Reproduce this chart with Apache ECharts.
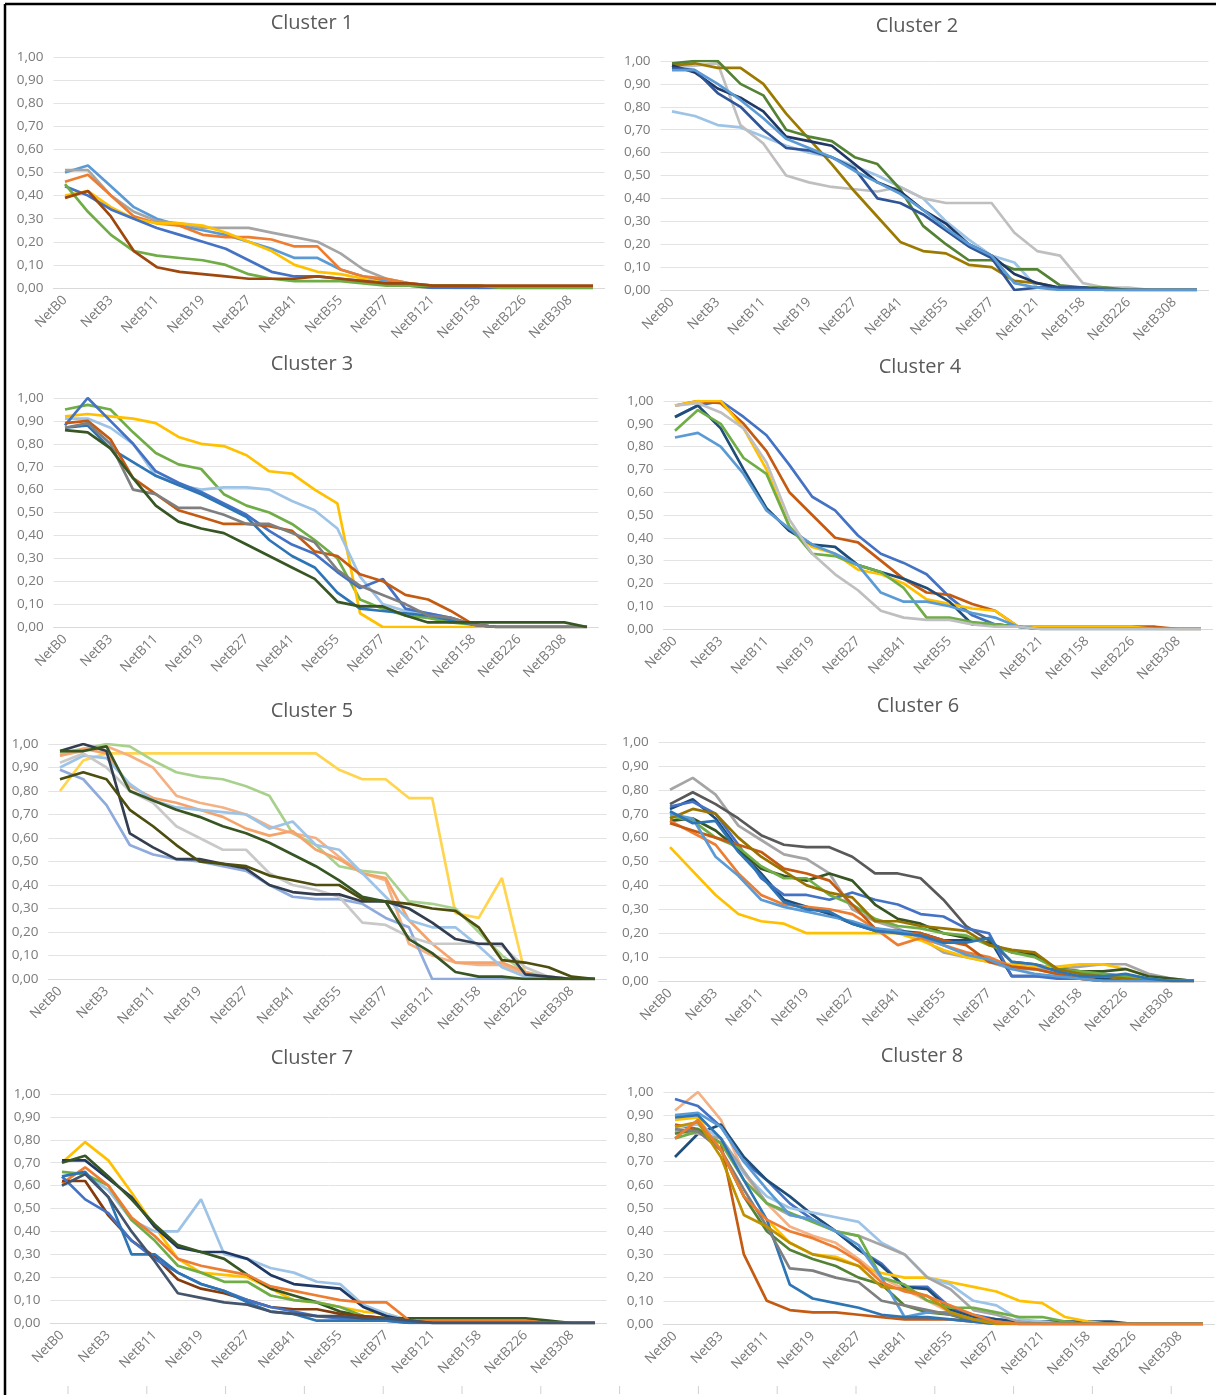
<!DOCTYPE html>
<html>
<head>
<meta charset="utf-8">
<script src="https://cdn.jsdelivr.net/npm/echarts@6/dist/echarts.min.js"></script>
<style>
html,body{margin:0;padding:0;background:#fff;}
#chart{width:1216px;height:1395px;}
</style>
</head>
<body>
<div id="chart"></div>
<script>
// ---------- categories / tick labels ----------
const categories = ['NetB0','NetB1','NetB3','NetB7','NetB11','NetB15','NetB19','NetB23','NetB27','NetB34','NetB41','NetB48','NetB55','NetB66','NetB77','NetB99','NetB121','NetB139','NetB158','NetB192','NetB226','NetB267','NetB308','NetB350'];
const yTicks = [0,0.1,0.2,0.3,0.4,0.5,0.6,0.7,0.8,0.9,1.0];
const titles = ['Cluster 1','Cluster 2','Cluster 3','Cluster 4','Cluster 5','Cluster 6','Cluster 7','Cluster 8'];

// ---------- Cluster 1 ----------
const c1s1 = [0.50,0.53,0.44,0.35,0.30,0.27,0.25,0.23,0.20,0.17,0.13,0.13,0.08,0.05,0.03,0.01,0.01,0.01,0,0,0,0,0,0];
const c1s2 = [0.51,0.51,0.40,0.33,0.29,0.28,0.26,0.26,0.26,0.24,0.22,0.20,0.15,0.08,0.04,0.02,0.01,0.01,0.01,0,0,0,0,0];
const c1s3 = [0.46,0.49,0.40,0.31,0.28,0.27,0.23,0.22,0.22,0.21,0.18,0.18,0.08,0.05,0.04,0.02,0.01,0,0,0,0,0,0,0];
const c1s4 = [0.40,0.42,0.35,0.30,0.28,0.28,0.27,0.24,0.20,0.16,0.10,0.07,0.06,0.04,0.02,0.01,0,0,0,0,0,0,0,0];
const c1s5 = [0.44,0.40,0.34,0.30,0.26,0.23,0.20,0.17,0.12,0.07,0.05,0.05,0.04,0.03,0.02,0.01,0,0,0,0,0,0,0,0];
const c1s6 = [0.45,0.33,0.23,0.16,0.14,0.13,0.12,0.10,0.06,0.04,0.03,0.03,0.03,0.02,0.01,0.01,0.01,0.01,0.01,0,0,0,0,0];
const c1s7 = [0.39,0.42,0.31,0.16,0.09,0.07,0.06,0.05,0.04,0.04,0.04,0.05,0.04,0.03,0.02,0.02,0.01,0.01,0.01,0.01,0.01,0.01,0.01,0.01];

// ---------- Cluster 2 ----------
const c2s1 = [0.78,0.76,0.72,0.71,0.67,0.63,0.60,0.58,0.54,0.50,0.45,0.40,0.30,0.22,0.15,0.12,0.01,0.01,0.01,0,0,0,0,0];
const c2s2 = [0.97,0.98,0.99,0.72,0.64,0.50,0.47,0.45,0.44,0.43,0.45,0.40,0.38,0.38,0.38,0.25,0.17,0.15,0.03,0.01,0.01,0,0,0];
const c2s3 = [0.98,0.99,0.97,0.97,0.90,0.77,0.66,0.55,0.43,0.32,0.21,0.17,0.16,0.11,0.10,0.04,0.03,0.01,0.01,0,0,0,0,0];
const c2s4 = [0.99,1.00,1.00,0.90,0.85,0.70,0.67,0.65,0.58,0.55,0.44,0.28,0.20,0.13,0.13,0.09,0.09,0.02,0.01,0.01,0,0,0,0];
const c2s5 = [0.98,0.95,0.88,0.84,0.78,0.67,0.65,0.63,0.55,0.47,0.43,0.35,0.29,0.20,0.15,0.07,0.03,0.01,0.01,0,0,0,0,0];
const c2s6 = [0.97,0.96,0.86,0.80,0.70,0.62,0.61,0.58,0.53,0.40,0.38,0.33,0.26,0.19,0.14,0.00,0.01,0.01,0.01,0,0,0,0,0];
const c2s7 = [0.96,0.96,0.90,0.83,0.75,0.66,0.62,0.58,0.52,0.47,0.42,0.35,0.27,0.20,0.15,0.03,0.01,0,0,0,0,0,0,0];

// ---------- Cluster 3 ----------
const c3s1 = [0.95,0.97,0.95,0.85,0.76,0.71,0.69,0.58,0.53,0.50,0.45,0.38,0.30,0.12,0.08,0.05,0.04,0.02,0.01,0,0,0,0,0];
const c3s2 = [0.92,0.93,0.92,0.91,0.89,0.83,0.80,0.79,0.75,0.68,0.67,0.60,0.54,0.06,0.00,0,0,0,0,0,0,0,0,0];
const c3s3 = [0.91,0.91,0.87,0.80,0.66,0.62,0.60,0.61,0.61,0.60,0.55,0.51,0.43,0.22,0.10,0.07,0.06,0.04,0.01,0,0,0,0,0];
const c3s4 = [0.88,1.00,0.90,0.80,0.68,0.63,0.59,0.54,0.49,0.42,0.36,0.32,0.24,0.17,0.21,0.08,0.06,0.04,0.01,0,0,0,0,0];
const c3s5 = [0.87,0.88,0.78,0.72,0.66,0.62,0.58,0.53,0.48,0.38,0.31,0.26,0.15,0.08,0.07,0.06,0.05,0.03,0.01,0,0,0,0,0];
const c3s6 = [0.89,0.90,0.82,0.65,0.58,0.51,0.48,0.45,0.45,0.44,0.42,0.33,0.31,0.23,0.20,0.14,0.12,0.07,0.01,0,0,0,0,0];
const c3s7 = [0.87,0.89,0.80,0.60,0.58,0.52,0.52,0.49,0.45,0.45,0.41,0.37,0.25,0.18,0.14,0.10,0.05,0.04,0.01,0,0,0,0,0];
const c3s8 = [0.86,0.85,0.78,0.65,0.53,0.46,0.43,0.41,0.36,0.31,0.26,0.21,0.11,0.09,0.09,0.05,0.02,0.02,0.02,0.02,0.02,0.02,0.02,0.00];

// ---------- Cluster 4 ----------
const c4s1 = [0.93,0.98,1.00,0.93,0.85,0.72,0.58,0.52,0.41,0.33,0.29,0.24,0.14,0.06,0.02,0.01,0,0,0,0,0,0,0,0];
const c4s2 = [0.98,1.00,0.99,0.90,0.78,0.60,0.50,0.40,0.38,0.30,0.22,0.16,0.15,0.11,0.08,0.01,0.01,0.01,0.01,0.01,0.01,0.01,0,0];
const c4s3 = [0.98,1.00,1.00,0.88,0.70,0.45,0.36,0.33,0.26,0.24,0.20,0.13,0.11,0.09,0.08,0.01,0.01,0.01,0.01,0.01,0.01,0,0,0];
const c4s4 = [0.93,0.98,0.88,0.70,0.53,0.43,0.37,0.36,0.28,0.25,0.22,0.18,0.12,0.02,0.02,0.01,0,0,0,0,0,0,0,0];
const c4s5 = [0.87,0.96,0.90,0.75,0.68,0.45,0.33,0.32,0.28,0.25,0.18,0.05,0.05,0.03,0.02,0.01,0,0,0,0,0,0,0,0];
const c4s6 = [0.84,0.86,0.80,0.68,0.52,0.44,0.37,0.33,0.28,0.16,0.12,0.12,0.10,0.07,0.05,0.01,0,0,0,0,0,0,0,0];
const c4s7 = [0.98,0.99,0.95,0.88,0.73,0.48,0.33,0.24,0.17,0.08,0.05,0.04,0.04,0.02,0.01,0.01,0,0,0,0,0,0,0,0];

// ---------- Cluster 5 ----------
const c5s1 = [0.80,0.93,0.96,0.96,0.96,0.96,0.96,0.96,0.96,0.96,0.96,0.96,0.89,0.85,0.85,0.77,0.77,0.28,0.26,0.43,0.02,0,0,0];
const c5s2 = [0.96,0.98,1.00,0.99,0.93,0.88,0.86,0.85,0.82,0.78,0.62,0.57,0.48,0.46,0.45,0.33,0.32,0.30,0.20,0.10,0.03,0.01,0,0];
const c5s3 = [0.95,0.97,0.99,0.95,0.90,0.78,0.75,0.73,0.70,0.65,0.62,0.60,0.52,0.45,0.42,0.15,0.10,0.07,0.06,0.06,0.02,0,0,0];
const c5s4 = [0.95,0.98,0.96,0.82,0.77,0.75,0.72,0.69,0.64,0.61,0.63,0.55,0.51,0.45,0.43,0.25,0.15,0.07,0.07,0.07,0.03,0,0,0];
const c5s5 = [0.90,0.95,0.94,0.83,0.76,0.73,0.72,0.71,0.70,0.64,0.67,0.57,0.55,0.45,0.35,0.25,0.22,0.22,0.14,0.05,0.01,0,0,0];
const c5s6 = [0.89,0.85,0.74,0.57,0.53,0.51,0.50,0.48,0.46,0.40,0.35,0.34,0.34,0.32,0.26,0.22,0.00,0,0,0,0,0,0,0];
const c5s7 = [0.92,0.96,0.90,0.80,0.75,0.65,0.60,0.55,0.55,0.45,0.40,0.38,0.35,0.24,0.23,0.18,0.15,0.15,0.15,0.14,0.05,0.01,0,0];
const c5s8 = [0.97,1.00,0.97,0.62,0.56,0.51,0.51,0.49,0.47,0.40,0.37,0.36,0.36,0.33,0.33,0.30,0.24,0.17,0.15,0.15,0.02,0.01,0,0];
const c5s9 = [0.85,0.88,0.85,0.72,0.65,0.57,0.50,0.49,0.48,0.44,0.42,0.40,0.40,0.34,0.33,0.32,0.30,0.29,0.22,0.08,0.07,0.05,0.01,0];
const c5s10 = [0.97,0.97,0.99,0.80,0.76,0.72,0.69,0.65,0.62,0.58,0.53,0.48,0.42,0.35,0.33,0.17,0.11,0.03,0.01,0.01,0,0,0,0];

// ---------- Cluster 6 ----------
const c6s1 = [0.80,0.85,0.78,0.65,0.59,0.53,0.51,0.45,0.30,0.25,0.22,0.18,0.12,0.10,0.08,0.05,0.05,0.05,0.06,0.07,0.07,0.03,0.01,0];
const c6s2 = [0.74,0.79,0.74,0.68,0.61,0.57,0.56,0.56,0.52,0.45,0.45,0.43,0.34,0.23,0.17,0.08,0.07,0.05,0.04,0.03,0.02,0.01,0,0];
const c6s3 = [0.56,0.46,0.36,0.28,0.25,0.24,0.20,0.20,0.20,0.20,0.20,0.17,0.13,0.10,0.08,0.07,0.06,0.06,0.07,0.07,0.05,0.02,0,0];
const c6s4 = [0.72,0.76,0.68,0.55,0.45,0.34,0.31,0.28,0.24,0.21,0.21,0.20,0.17,0.17,0.18,0.02,0.02,0.02,0.01,0.01,0,0,0,0];
const c6s5 = [0.73,0.75,0.70,0.57,0.43,0.36,0.36,0.34,0.37,0.34,0.32,0.28,0.27,0.22,0.20,0.02,0.02,0.01,0.01,0,0,0,0,0];
const c6s6 = [0.67,0.68,0.63,0.55,0.47,0.44,0.42,0.45,0.42,0.32,0.26,0.24,0.20,0.18,0.16,0.12,0.11,0.05,0.04,0.04,0.05,0.02,0.01,0];
const c6s7 = [0.69,0.67,0.60,0.56,0.48,0.43,0.43,0.36,0.32,0.26,0.23,0.22,0.20,0.19,0.15,0.12,0.10,0.05,0.04,0.03,0.02,0.01,0,0];
const c6s8 = [0.67,0.62,0.57,0.45,0.36,0.32,0.31,0.30,0.28,0.22,0.15,0.18,0.15,0.12,0.10,0.06,0.05,0.03,0.01,0,0,0,0,0];
const c6s9 = [0.66,0.63,0.60,0.57,0.54,0.47,0.45,0.42,0.32,0.22,0.20,0.20,0.17,0.15,0.08,0.06,0.05,0.03,0.01,0,0,0,0,0];
const c6s10 = [0.68,0.72,0.70,0.60,0.52,0.46,0.40,0.37,0.35,0.25,0.25,0.23,0.22,0.21,0.15,0.13,0.12,0.05,0.03,0.02,0.01,0,0,0];
const c6s11 = [0.70,0.68,0.52,0.44,0.34,0.31,0.29,0.27,0.25,0.22,0.21,0.19,0.15,0.11,0.09,0.05,0.03,0.02,0.01,0,0,0,0,0];
const c6s12 = [0.71,0.66,0.67,0.54,0.44,0.33,0.30,0.29,0.24,0.21,0.20,0.19,0.16,0.16,0.18,0.08,0.07,0.04,0.02,0.02,0.03,0.01,0,0];

// ---------- Cluster 7 ----------
const c7s1 = [0.70,0.79,0.71,0.57,0.42,0.28,0.22,0.21,0.20,0.15,0.10,0.09,0.07,0.05,0.04,0.01,0,0,0,0,0,0,0,0];
const c7s2 = [0.60,0.65,0.58,0.45,0.40,0.40,0.54,0.30,0.28,0.24,0.22,0.18,0.17,0.08,0.04,0.01,0,0,0,0,0,0,0,0];
const c7s3 = [0.71,0.71,0.63,0.55,0.42,0.33,0.31,0.31,0.28,0.21,0.17,0.16,0.15,0.07,0.03,0.01,0,0,0,0,0,0,0,0];
const c7s4 = [0.70,0.73,0.64,0.54,0.43,0.34,0.31,0.28,0.21,0.15,0.12,0.09,0.05,0.03,0.02,0.02,0.02,0.02,0.02,0.02,0.02,0.01,0,0];
const c7s5 = [0.66,0.65,0.60,0.45,0.36,0.25,0.22,0.18,0.18,0.12,0.10,0.09,0.07,0.03,0.02,0.01,0,0,0,0,0,0,0,0];
const c7s6 = [0.61,0.68,0.60,0.46,0.38,0.28,0.25,0.23,0.21,0.16,0.14,0.12,0.10,0.09,0.09,0.01,0.01,0.01,0.01,0.01,0.01,0,0,0];
const c7s7 = [0.62,0.62,0.47,0.36,0.29,0.19,0.15,0.13,0.10,0.07,0.06,0.06,0.04,0.03,0.02,0.01,0,0,0,0,0,0,0,0];
const c7s8 = [0.64,0.54,0.48,0.36,0.28,0.22,0.17,0.14,0.10,0.07,0.05,0.03,0.02,0.02,0.01,0,0,0,0,0,0,0,0,0];
const c7s9 = [0.64,0.66,0.55,0.30,0.30,0.22,0.17,0.14,0.09,0.05,0.04,0.01,0.01,0.01,0.01,0,0,0,0,0,0,0,0,0];
const c7s10 = [0.60,0.65,0.55,0.40,0.27,0.13,0.11,0.09,0.08,0.05,0.04,0.03,0.03,0.02,0.02,0.01,0,0,0,0,0,0,0,0];

// ---------- Cluster 8 ----------
const c8s1 = [0.86,0.84,0.78,0.30,0.10,0.06,0.05,0.05,0.04,0.03,0.02,0.02,0.02,0.01,0.01,0,0,0,0,0,0,0,0,0];
const c8s2 = [0.92,1.00,0.88,0.65,0.52,0.42,0.38,0.35,0.28,0.20,0.15,0.10,0.05,0.02,0.01,0,0,0,0,0,0,0,0,0];
const c8s3 = [0.97,0.94,0.85,0.70,0.62,0.52,0.45,0.40,0.32,0.26,0.16,0.16,0.07,0.04,0.02,0.01,0,0,0,0,0,0,0,0];
const c8s4 = [0.72,0.82,0.86,0.72,0.62,0.55,0.47,0.40,0.32,0.25,0.16,0.15,0.06,0.03,0.02,0.01,0.01,0.01,0.01,0.01,0,0,0,0];
const c8s5 = [0.88,0.89,0.75,0.55,0.45,0.35,0.30,0.29,0.25,0.22,0.20,0.20,0.18,0.16,0.14,0.10,0.09,0.03,0.01,0,0,0,0,0];
const c8s6 = [0.85,0.86,0.80,0.65,0.55,0.50,0.48,0.46,0.44,0.35,0.30,0.20,0.17,0.10,0.08,0.02,0.01,0,0,0,0,0,0,0];
const c8s7 = [0.83,0.82,0.80,0.66,0.52,0.47,0.45,0.40,0.38,0.34,0.30,0.20,0.15,0.06,0.04,0.01,0,0,0,0,0,0,0,0];
const c8s8 = [0.80,0.83,0.78,0.62,0.52,0.48,0.44,0.40,0.38,0.20,0.17,0.10,0.07,0.07,0.05,0.03,0.03,0.01,0,0,0,0,0,0];
const c8s9 = [0.82,0.84,0.75,0.55,0.40,0.32,0.28,0.25,0.20,0.17,0.08,0.05,0.04,0.01,0,0,0,0,0,0,0,0,0,0];
const c8s10 = [0.90,0.91,0.85,0.70,0.58,0.47,0.45,0.40,0.34,0.20,0.03,0.05,0.05,0.02,0.01,0,0,0,0,0,0,0,0,0];
const c8s11 = [0.89,0.90,0.80,0.62,0.45,0.17,0.11,0.09,0.07,0.04,0.03,0.03,0.02,0.01,0,0,0,0,0,0,0,0,0,0];
const c8s12 = [0.84,0.83,0.75,0.58,0.42,0.24,0.23,0.20,0.18,0.10,0.08,0.06,0.04,0.02,0.01,0,0,0,0,0,0,0,0,0];
const c8s13 = [0.85,0.87,0.72,0.47,0.42,0.35,0.30,0.28,0.25,0.16,0.15,0.12,0.05,0.02,0,0,0,0,0,0,0,0,0,0];
const c8s14 = [0.80,0.88,0.75,0.55,0.45,0.40,0.37,0.33,0.27,0.18,0.14,0.12,0.08,0.04,0.01,0,0,0,0,0,0,0,0,0];

// ---------- styles (kept separate from data) ----------
const colors1 = ['#5B9BD5','#A5A5A5','#ED7D31','#FFC000','#4472C4','#70AD47','#9E480E'];
const colors2 = ['#9DC3E6','#BFBFBF','#9C7A00','#548235','#203864','#2F5597','#5B9BD5'];
const colors3 = ['#70AD47','#FFC000','#9DC3E6','#4472C4','#2E75B6','#C55A11','#7F7F7F','#375623'];
const colors4 = ['#4472C4','#C55A11','#FFC000','#1F4E79','#70AD47','#5B9BD5','#BFBFBF'];
const colors5 = ['#FFD54F','#A9D18E','#F4B183','#F4A46B','#9DC3E6','#8FAADC','#C9C9C9','#333F50','#4D4D0F','#375623'];
const colors6 = ['#A5A5A5','#595959','#FFC000','#1F4E79','#4472C4','#375623','#70AD47','#ED7D31','#C55A11','#997300','#5B9BD5','#2E75B6'];
const colors7 = ['#FFC000','#9DC3E6','#1F3864','#375623','#70AD47','#ED7D31','#843C0C','#4472C4','#2E75B6','#44546A'];
const colors8 = ['#C55A11','#F4B183','#4472C4','#1F4E79','#FFC000','#9DC3E6','#A5A5A5','#70AD47','#548235','#5B9BD5','#2E75B6','#7F7F7F','#BF9000','#ED7D31'];

const clusterSeries = [
  [c1s1,c1s2,c1s3,c1s4,c1s5,c1s6,c1s7],
  [c2s1,c2s2,c2s3,c2s4,c2s5,c2s6,c2s7],
  [c3s1,c3s2,c3s3,c3s4,c3s5,c3s6,c3s7,c3s8],
  [c4s1,c4s2,c4s3,c4s4,c4s5,c4s6,c4s7],
  [c5s1,c5s2,c5s3,c5s4,c5s5,c5s6,c5s7,c5s8,c5s9,c5s10],
  [c6s1,c6s2,c6s3,c6s4,c6s5,c6s6,c6s7,c6s8,c6s9,c6s10,c6s11,c6s12],
  [c7s1,c7s2,c7s3,c7s4,c7s5,c7s6,c7s7,c7s8,c7s9,c7s10],
  [c8s1,c8s2,c8s3,c8s4,c8s5,c8s6,c8s7,c8s8,c8s9,c8s10,c8s11,c8s12,c8s13,c8s14]
];
const clusterColors = [colors1,colors2,colors3,colors4,colors5,colors6,colors7,colors8];

// layout: [first category x, last category x, y of 1.00, y of 0.00, title x, title y]
const layout = [
  [65, 593, 57, 288, 312, 23],
  [672, 1197, 61, 290, 917, 26],
  [65, 587, 398, 627, 312, 364],
  [675, 1201, 401, 629, 920, 367],
  [60, 595, 744, 979, 312, 711],
  [670, 1194, 742, 981, 918, 706],
  [62, 595, 1094, 1323, 312, 1058],
  [675, 1203, 1092, 1324, 922, 1056]
];

const FONT = '"Open Sans", "Noto Sans", sans-serif';
const grids = [], xAxes = [], yAxes = [], series = [], graphics = [];
const N = categories.length;

layout.forEach((L, k) => {
  const bw = (L[1] - L[0]) / (N - 1);
  grids.push({left: L[0] - bw / 2, top: L[2], width: bw * N, height: L[3] - L[2], containLabel: false});
  xAxes.push({
    type: 'category', gridIndex: k, data: categories, boundaryGap: true,
    axisLine: {show: true, lineStyle: {color: '#d9d9d9', width: 1}},
    axisTick: {show: false},
    axisLabel: {interval: 1, rotate: 45, color: '#7a7a7a', fontSize: 13.5, fontFamily: FONT, margin: 10}
  });
  yAxes.push({
    type: 'value', gridIndex: k, min: 0, max: 1, interval: 0.1,
    axisLine: {show: false}, axisTick: {show: false},
    splitLine: {show: true, lineStyle: {color: '#e3e3e3', width: 1}},
    axisLabel: {color: '#7a7a7a', fontSize: 13.5, fontFamily: FONT, margin: 10,
      formatter: v => v.toFixed(2).replace('.', ',')}
  });
  clusterSeries[k].forEach((arr, j) => {
    series.push({
      type: 'line', xAxisIndex: k, yAxisIndex: k, data: arr,
      symbol: 'none', smooth: false, silent: true,
      lineStyle: {color: clusterColors[k][j], width: 2.7},
      itemStyle: {color: clusterColors[k][j]},
      emphasis: {disabled: true}
    });
  });
  graphics.push({
    type: 'text', x: L[4], y: L[5],
    style: {text: titles[k], fill: '#595959', fontSize: 20, fontFamily: FONT, align: 'center', verticalAlign: 'middle'}
  });
});

// outer frame (left and top) and faint bottom ticks
graphics.push({type: 'line', shape: {x1: 5, y1: 4, x2: 1216, y2: 4}, style: {stroke: '#000', lineWidth: 2.5}});
graphics.push({type: 'line', shape: {x1: 5, y1: 4, x2: 5, y2: 1395}, style: {stroke: '#000', lineWidth: 2.5}});
for (let t = 0; t < 15; t++) {
  const x = 68 + t * 78.8;
  graphics.push({type: 'line', shape: {x1: x, y1: 1386, x2: x, y2: 1394}, style: {stroke: '#d0d0d0', lineWidth: 1}});
}

const chart = echarts.init(document.getElementById('chart'), null, {renderer: 'canvas'});
chart.setOption({
  animation: false,
  backgroundColor: '#ffffff',
  grid: grids, xAxis: xAxes, yAxis: yAxes, series: series,
  graphic: graphics
});
</script>
</body>
</html>
